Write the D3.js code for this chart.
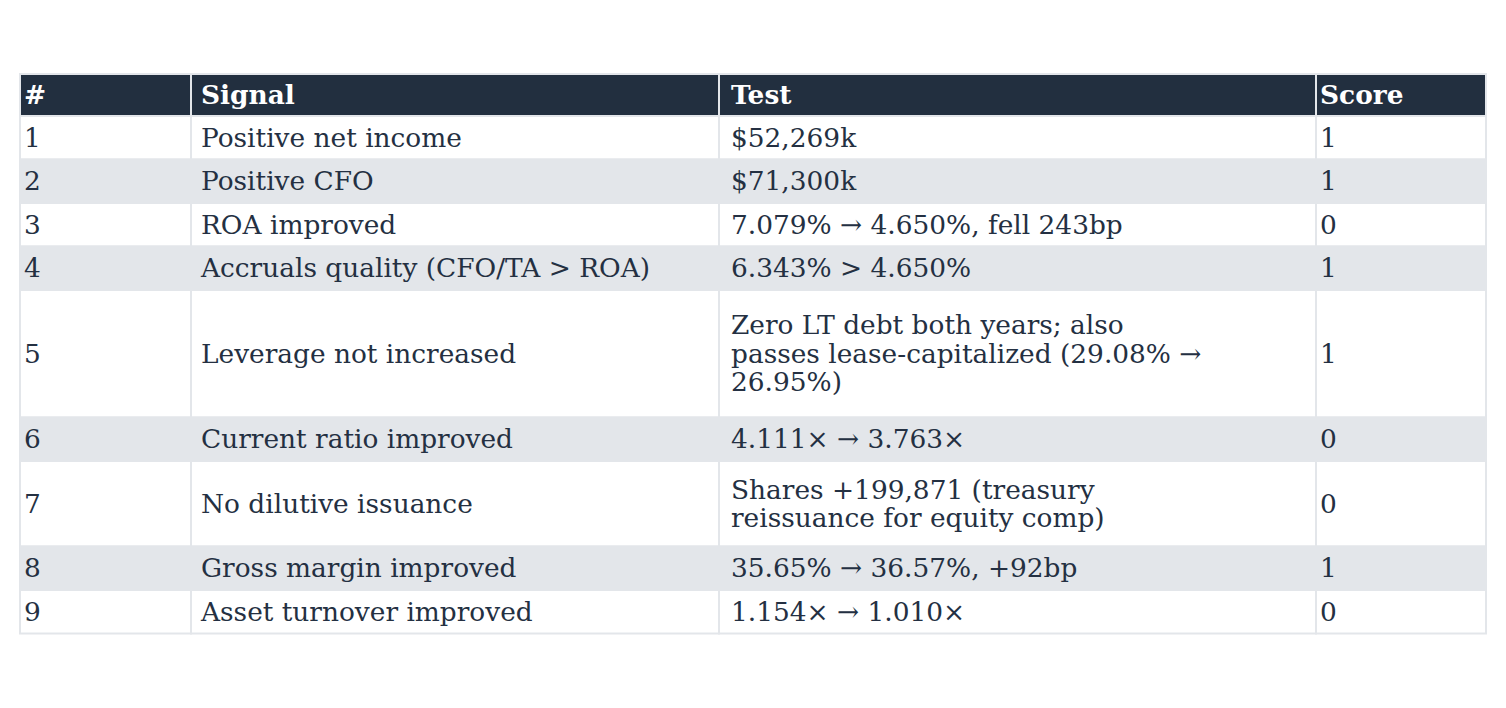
<!DOCTYPE html>
<html lang="en">
<head>
  <meta charset="UTF-8" />
  <title>Piotroski signals</title>
  <script src="https://unpkg.com/d3@7/dist/d3.min.js"></script>
  <style>
    body { margin: 0; background: #fff; }
    svg { display: block; }
    text { font-family: "DejaVu Serif", serif; font-size: 26.4px; }
  </style>
</head>
<body>
  <svg id="table" width="1506" height="708"></svg>

  <script>
  const headers = ["#", "Signal", "Test", "Score"];
  const rowIds = ["1", "2", "3", "4", "5", "6", "7", "8", "9"];
  const signals = [
    "Positive net income",
    "Positive CFO",
    "ROA improved",
    "Accruals quality (CFO/TA > ROA)",
    "Leverage not increased",
    "Current ratio improved",
    "No dilutive issuance",
    "Gross margin improved",
    "Asset turnover improved"
  ];
  const tests = [
    "$52,269k",
    "$71,300k",
    "7.079% → 4.650%, fell 243bp",
    "6.343% > 4.650%",
    "Zero LT debt both years; also\npasses lease-capitalized (29.08% →\n26.95%)",
    "4.111× → 3.763×",
    "Shares +199,871 (treasury\nreissuance for equity comp)",
    "35.65% → 36.57%, +92bp",
    "1.154× → 1.010×"
  ];
  const scores = ["1", "1", "0", "1", "1", "0", "0", "1", "0"];
  const columnWidths = [171, 528, 597, 170];

  const svg = d3.select("#table");
  const tblLeft = 20, tblTop = 74, tableW = 1466;
  const headerH = 42, rowBase = 43.5, rowExtra = 42, lineGap = 28.5;
  const headFill = "#222f3f", bandFill = "#e3e6ea", textFill = "#243042";
  const pad = [4, 10, 12, 4];

  const edges = d3.cumsum([0, ...columnWidths]);
  const x = d3.scaleLinear().domain([0, edges[edges.length - 1]]).range([tblLeft, tblLeft + tableW]);

  const rows = rowIds.map((id, i) => ({
    cells: [id, signals[i], tests[i], scores[i]].map(s => s.split("\n")),
    band: i % 2 === 1
  }));
  rows.forEach(r => r.h = rowBase + rowExtra * (d3.max(r.cells, c => c.length) - 1));
  let yy = tblTop + headerH;
  rows.forEach(r => { r.y = yy; yy += r.h; });

  function drawRow(g, cells, y, h, fill, color, bold) {
    cells.forEach((lines, j) => {
      g.append("rect")
        .attr("x", x(edges[j])).attr("y", y)
        .attr("width", x(edges[j + 1]) - x(edges[j])).attr("height", h)
        .attr("fill", fill).attr("stroke", "#e3e6ea").attr("stroke-width", 2);
      const cy = y + h / 2 - (lines.length - 1) * lineGap / 2;
      const t = g.append("text")
        .attr("x", x(edges[j]) + pad[j])
        .attr("fill", color)
        .attr("font-weight", bold ? "bold" : "normal");
      lines.forEach((ln, k) => {
        t.append("tspan")
          .attr("x", x(edges[j]) + pad[j])
          .attr("y", cy + k * lineGap)
          .attr("dy", "0.35em")
          .text(ln);
      });
    });
  }

  const body = svg.append("g");
  rows.forEach(r => drawRow(body, r.cells, r.y, r.h, r.band ? bandFill : "#ffffff", textFill, false));
  const head = svg.append("g");
  drawRow(head, headers.map(h => [h]), tblTop, headerH, headFill, "#ffffff", true);
  </script>
</body>
</html>
